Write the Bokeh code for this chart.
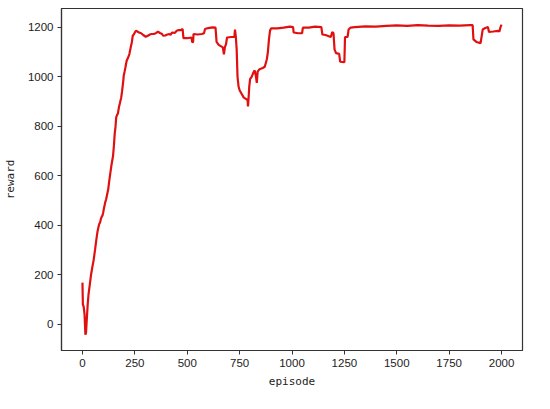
from bokeh.plotting import figure
from bokeh.models import FixedTicker, Range1d
from bokeh.embed import file_html
from bokeh.resources import INLINE

episode = [0, 2, 6, 10, 14, 17, 20, 25, 29, 35, 41, 47, 53, 60, 66, 72, 76, 80, 84, 88,
           92, 96, 99, 103, 108, 113, 118, 123, 128, 133, 138, 142, 146, 150, 154, 158,
           161, 165, 169, 174, 178, 182, 185, 189, 193, 195, 197, 201, 205, 211, 217, 224,
           232, 236, 240, 245, 250, 255, 262, 270, 280, 290, 302, 312, 322, 330, 340,
           350, 360, 370, 380, 385, 395, 405, 415,
           420, 425, 430, 440, 450, 460, 470, 478, 482, 500, 520, 524, 528, 530, 550, 570,
           580, 585, 600, 620, 635, 640, 650, 670, 675, 680, 685, 690, 710, 725, 728, 732,
           736, 740, 745, 750, 760, 770, 780, 788, 790, 793, 796, 800, 808, 815, 822, 828,
           832, 836, 845, 860, 870, 880, 885, 890, 895, 900, 930, 960, 990, 1005, 1008, 1030,
           1048, 1052, 1080, 1110, 1140, 1145, 1160, 1185, 1192, 1198, 1203, 1210, 1225, 1230,
           1250, 1253, 1265, 1270, 1280, 1300, 1350, 1400, 1450, 1500, 1550, 1600, 1650, 1700,
           1750, 1800, 1850, 1862, 1866, 1880, 1900, 1910, 1920, 1935, 1940, 1960, 1985, 1990,
           1995, 2000]
reward = [168, 80, 70, 40, -42, -35, 10, 80, 121, 160, 200, 230, 257, 300, 340, 375, 391, 405, 411, 425,
          435, 440, 451, 470, 490, 505, 525, 545, 580, 610, 640, 660, 680, 720, 770, 800,
          835, 845, 850, 876, 890, 905, 916, 940, 970, 985, 1004, 1020, 1037, 1064, 1075, 1091,
          1125, 1140, 1165, 1170, 1178, 1185, 1182, 1178, 1175, 1168, 1161, 1165, 1170, 1172, 1172,
          1175, 1182, 1176, 1172, 1165, 1166, 1170, 1172,
          1168, 1175, 1178, 1176, 1185, 1188, 1188, 1192, 1155, 1155, 1158, 1138, 1140, 1172, 1170, 1172,
          1175, 1192, 1196, 1199, 1198, 1140, 1128, 1118, 1090, 1120, 1130, 1158, 1160, 1160, 1190, 1160,
          1110, 1000, 960, 945, 930, 915, 910, 905, 880, 915, 960, 990, 1000, 1015, 1025, 1000,
          975, 1020, 1030, 1035, 1040, 1070, 1100, 1150, 1185, 1195, 1195, 1198, 1202, 1200, 1178, 1175,
          1175, 1198, 1198, 1202, 1200, 1170, 1168, 1160, 1180, 1175, 1110, 1095, 1092, 1060,
          1058, 1160, 1160, 1190, 1198, 1200, 1203, 1202, 1205, 1207, 1205, 1208, 1206, 1205,
          1207, 1206, 1208, 1208, 1150, 1140, 1135, 1190, 1195, 1200, 1180, 1182, 1185, 1182,
          1200, 1210]

x_ticks = [0, 250, 500, 750, 1000, 1250, 1500, 1750, 2000]
y_ticks = [0, 200, 400, 600, 800, 1000, 1200]

p = figure(width=534, height=393, output_backend="svg", toolbar_location=None,
           x_range=Range1d(-100, 2100), y_range=Range1d(-106, 1275),
           min_border_left=51, min_border_right=12, min_border_top=8, min_border_bottom=43)

p.line(episode, reward, line_color="#e01010", line_width=2.2)

p.grid.visible = False
p.background_fill_color = "white"
p.border_fill_color = "white"
p.outline_line_color = "#333333"
p.outline_line_width = 1.2

for ax in (p.xaxis, p.yaxis):
    ax.axis_line_color = "#333333"
    ax.axis_line_width = 1.2
    ax.major_tick_line_color = "#333333"
    ax.major_tick_out = 4
    ax.major_tick_in = 0
    ax.minor_tick_line_color = None
    ax.major_label_text_font = "Liberation Sans"
    ax.major_label_text_font_size = "11.5px"
    ax.major_label_text_color = "#222222"
    ax.axis_label_text_font = "DejaVu Sans Mono"
    ax.axis_label_text_font_size = "11px"
    ax.axis_label_text_font_style = "normal"
    ax.axis_label_text_color = "#222222"

p.xaxis.ticker = FixedTicker(ticks=x_ticks)
p.yaxis.ticker = FixedTicker(ticks=y_ticks)
p.xaxis.axis_label = "episode"
p.yaxis.axis_label = "reward"
p.xaxis.major_label_standoff = 4
p.yaxis.major_label_standoff = 4
p.xaxis.axis_label_standoff = 5
p.yaxis.axis_label_standoff = 8

open("out.html", "w").write(file_html(p, INLINE))
